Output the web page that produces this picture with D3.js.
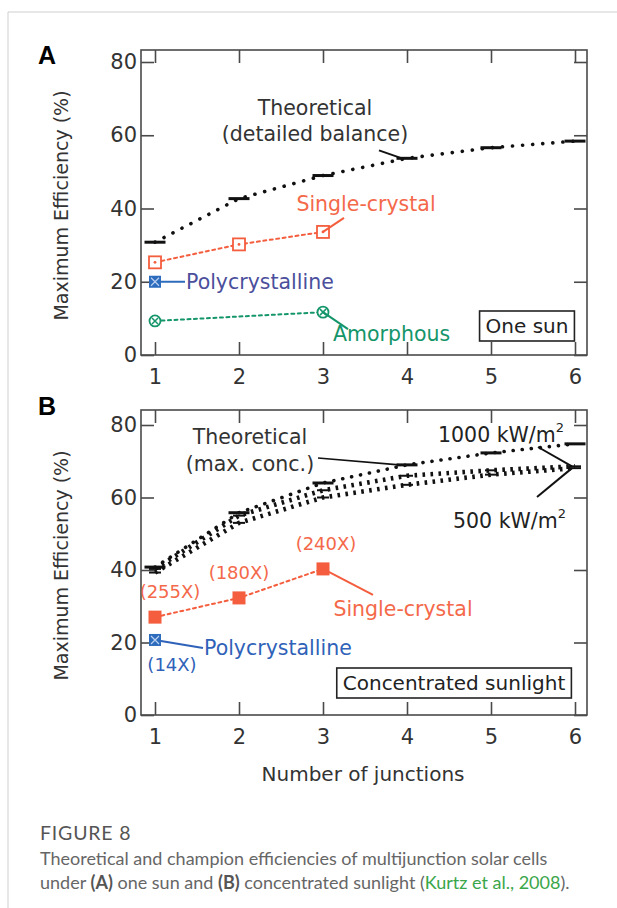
<!DOCTYPE html>
<html><head><meta charset="utf-8">
<script src="https://cdn.jsdelivr.net/npm/d3@7"></script>
<style>
html,body{margin:0;padding:0;background:#fff;}
svg{display:block;}
</style></head>
<body>
<script>
// ---------- DATA ----------
const junctions = [1, 2, 3, 4, 5, 6];
const yTicks = [0, 20, 40, 60, 80];

// Panel A (one sun)
const theoryA = [30.8, 42.7, 49.0, 53.7, 56.6, 58.4];
const singleAX = [1, 2, 3];
const singleA = [25.3, 30.2, 33.6];
const polyAX = [1];
const polyA = [20.0];
const amorphAX = [1, 3];
const amorphA = [9.3, 11.7];

// Panel B (concentrated sunlight)
const theoryMaxB = [40.8, 55.8, 64.0, 69.0, 72.3, 74.8];
const theory1000B = [40.3, 55.0, 62.0, 66.0, 67.5, 68.6];
const theory500B = [39.3, 53.0, 60.0, 63.5, 66.3, 68.1];
const singleBX = [1, 2, 3];
const singleB = [27.0, 32.3, 40.3];
const singleBConc = ["(255X)", "(180X)", "(240X)"];
const polyBX = [1];
const polyB = [20.7];
const polyBConc = ["(14X)"];

// ---------- STYLE ----------
const W = 617, H = 908;
const ORANGE = "#f45d3d", ORANGE_T = "#f4694a";
const BLUE_A = "#4b4f9c", BLUE_MK = "#2d6bbd", BLUE_B = "#2f62b8";
const GREEN = "#14956a";
const AX = "#4a4a4a";
const FONT = "DejaVu Sans, Verdana, sans-serif";
const LS = 20.5;

const svg = d3.select("body").append("svg").attr("width", W).attr("height", H);

// card frame
svg.append("line").attr("x1", 8).attr("x2", W).attr("y1", 12).attr("y2", 12).attr("stroke", "#cfcfcf").attr("stroke-width", 1);
svg.append("line").attr("x1", 8).attr("x2", 8).attr("y1", 12).attr("y2", H).attr("stroke", "#cfcfcf").attr("stroke-width", 1);

const x = d3.scaleLinear().domain([1, 6]).range([155, 575]);
const boxL = 141, boxR = 587;

function panel(yTop80, y0, boxTop, letter, letterY) {
  const y = d3.scaleLinear().domain([0, 80]).range([y0, yTop80]);
  const g = svg.append("g");
  g.append("rect").attr("x", boxL).attr("y", boxTop).attr("width", boxR - boxL).attr("height", y0 - boxTop)
    .attr("fill", "none").attr("stroke", AX).attr("stroke-width", 1.6);
  const tl = 13;
  g.append("g").attr("transform", `translate(0,${y0})`)
    .call(d3.axisBottom(x).tickValues(junctions).tickSize(-tl).tickPadding(11).tickFormat(d3.format("d")))
    .call(a => { a.select(".domain").remove(); a.selectAll("line").attr("stroke", AX).attr("stroke-width", 1.6);
      a.selectAll("text").attr("font-family", FONT).attr("font-size", 21).attr("fill", "#333").attr("dy", "0.85em"); });
  g.append("g").attr("transform", `translate(0,${boxTop})`)
    .call(d3.axisTop(x).tickValues(junctions).tickSize(-tl).tickFormat(""))
    .call(a => { a.select(".domain").remove(); a.selectAll("line").attr("stroke", AX).attr("stroke-width", 1.6); });
  g.append("g").attr("transform", `translate(${boxL},0)`)
    .call(d3.axisLeft(y).tickValues(yTicks).tickSize(-tl).tickPadding(4).tickFormat(d3.format("d")))
    .call(a => { a.select(".domain").remove(); a.selectAll("line").attr("stroke", AX).attr("stroke-width", 1.6);
      a.selectAll("text").attr("font-family", FONT).attr("font-size", 21).attr("fill", "#333"); });
  g.append("g").attr("transform", `translate(${boxR},0)`)
    .call(d3.axisRight(y).tickValues(yTicks).tickSize(-tl).tickFormat(""))
    .call(a => { a.select(".domain").remove(); a.selectAll("line").attr("stroke", AX).attr("stroke-width", 1.6); });
  g.append("text").attr("transform", `translate(68,${(y0 + boxTop) / 2 + 3}) rotate(-90)`)
    .attr("text-anchor", "middle").attr("font-family", FONT).attr("font-size", 19).attr("fill", "#333")
    .text("Maximum Efficiency (%)");
  g.append("text").attr("x", 38).attr("y", letterY).attr("font-family", "Liberation Sans, Arial, sans-serif")
    .attr("font-weight", "bold").attr("font-size", 25).attr("fill", "#000").text(letter);
  return { g, y };
}

function dotted(g, xs, ys, y, color, width, dash, cap) {
  const line = d3.line().x((d, i) => x(xs[i])).y(d => y(d));
  g.append("path").datum(ys).attr("d", line).attr("fill", "none").attr("stroke", color)
    .attr("stroke-width", width).attr("stroke-dasharray", dash).attr("stroke-linecap", cap || "round");
}
function bars(g, xs, ys, y, w, sw) {
  g.selectAll(null).data(ys).enter().append("line")
    .attr("x1", (d, i) => x(xs[i]) - w / 2).attr("x2", (d, i) => x(xs[i]) + w / 2)
    .attr("y1", d => y(d)).attr("y2", d => y(d)).attr("stroke", "#111").attr("stroke-width", sw);
}
function leader(g, x1, y1, x2, y2, color, sw) {
  g.append("line").attr("x1", x1).attr("y1", y1).attr("x2", x2).attr("y2", y2).attr("stroke", color).attr("stroke-width", sw || 1.8);
}
function label(g, tx, ty, txt, color, anchor, size) {
  return g.append("text").attr("x", tx).attr("y", ty).attr("text-anchor", anchor || "start")
    .attr("font-family", FONT).attr("font-size", size || LS).attr("fill", color).text(txt);
}
function boxedLabel(g, cx, cy, txt, size) {
  const t = label(g, cx, cy, txt, "#222", "middle", size).attr("dominant-baseline", "central");
  const bb = t.node().getBBox();
  g.append("rect").attr("x", bb.x - 6).attr("y", bb.y - 3).attr("width", bb.width + 12).attr("height", bb.height + 6)
    .attr("fill", "#fff").attr("stroke", "#222").attr("stroke-width", 1.6);
  t.raise();
}

// ---------- PANEL A ----------
{
  const { g, y } = panel(62, 355, 50, "A", 64);
  dotted(g, junctions, theoryA, y, "#111", 3.6, "0.1,10");
  bars(g, junctions, theoryA, y, 21, 3);
  dotted(g, singleAX, singleA, y, ORANGE, 2, "3,3.5");
  g.selectAll(null).data(singleA).enter().append("rect")
    .attr("x", (d, i) => x(singleAX[i]) - 6).attr("y", d => y(d) - 6).attr("width", 12).attr("height", 12)
    .attr("fill", "#fff").attr("stroke", ORANGE).attr("stroke-width", 1.8);
  g.selectAll(null).data(singleA).enter().append("circle")
    .attr("cx", (d, i) => x(singleAX[i])).attr("cy", d => y(d)).attr("r", 1.4).attr("fill", ORANGE);
  dotted(g, amorphAX, amorphA, y, GREEN, 2, "3,3.5");
  amorphA.forEach((d, i) => {
    const cx = x(amorphAX[i]), cy = y(d);
    g.append("circle").attr("cx", cx).attr("cy", cy).attr("r", 5.5).attr("fill", "#fff").attr("stroke", GREEN).attr("stroke-width", 1.8);
    g.append("path").attr("d", `M${cx - 3},${cy - 3}L${cx + 3},${cy + 3}M${cx - 3},${cy + 3}L${cx + 3},${cy - 3}`).attr("stroke", GREEN).attr("stroke-width", 1.5);
  });
  polyA.forEach((d, i) => {
    const cx = x(polyAX[i]), cy = y(d);
    leader(g, cx, cy, cx + 30, cy, BLUE_MK, 2);
    g.append("rect").attr("x", cx - 6).attr("y", cy - 6).attr("width", 12).attr("height", 12).attr("fill", BLUE_MK);
    g.append("path").attr("d", `M${cx - 4},${cy - 4}L${cx + 4},${cy + 4}M${cx - 4},${cy + 4}L${cx + 4},${cy - 4}`).attr("stroke", "#bcd0f0").attr("stroke-width", 1.2);
    label(g, cx + 31, cy + 7, "Polycrystalline", BLUE_A);
  });
  label(g, 315, 115, "Theoretical", "#333", "middle");
  label(g, 315, 141, "(detailed balance)", "#333", "middle");
  leader(g, x(4) - 28, y(theoryA[3]) - 8, x(4) - 5, y(theoryA[3]), "#111", 2);
  label(g, 366, 211, "Single-crystal", ORANGE_T, "middle");
  leader(g, x(3), y(singleA[2]), x(3) + 21, y(singleA[2]) - 14, ORANGE, 2);
  label(g, 333, 341, "Amorphous", GREEN, "start");
  leader(g, x(3), y(amorphA[1]), x(3) + 25, y(amorphA[1]) + 17, GREEN, 2);
  boxedLabel(g, 527, 326, "One sun", 20);
}

// ---------- PANEL B ----------
{
  const { g, y } = panel(425, 715, 410, "B", 415);
  dotted(g, junctions, theory500B, y, "#111", 4.6, "2.6,5.4", "butt");
  dotted(g, junctions, theory1000B, y, "#111", 4.6, "2.6,5.4", "butt");
  dotted(g, junctions, theoryMaxB, y, "#111", 3.6, "0.1,9");
  bars(g, junctions, theoryMaxB, y, 21, 3);
  bars(g, junctions, theory1000B, y, 12, 2);
  bars(g, junctions, theory500B, y, 12, 2);
  dotted(g, singleBX, singleB, y, ORANGE, 2, "3,3.5");
  g.selectAll(null).data(singleB).enter().append("rect")
    .attr("x", (d, i) => x(singleBX[i]) - 6.5).attr("y", d => y(d) - 6.5).attr("width", 13).attr("height", 13)
    .attr("fill", ORANGE);
  const concDx = [15, 0, 3];
  singleB.forEach((d, i) => label(g, x(singleBX[i]) + concDx[i], y(d) - 19, singleBConc[i], ORANGE_T, "middle", 18));
  polyB.forEach((d, i) => {
    const cx = x(polyBX[i]), cy = y(d);
    leader(g, cx, cy, cx + 48, cy + 8, BLUE_B, 2);
    g.append("rect").attr("x", cx - 6).attr("y", cy - 6).attr("width", 12).attr("height", 12).attr("fill", BLUE_MK);
    g.append("path").attr("d", `M${cx - 4},${cy - 4}L${cx + 4},${cy + 4}M${cx - 4},${cy + 4}L${cx + 4},${cy - 4}`).attr("stroke", "#bcd0f0").attr("stroke-width", 1.2);
    label(g, cx + 49, cy + 15, "Polycrystalline", BLUE_B);
    label(g, cx + 17, cy + 31, polyBConc[i], BLUE_B, "middle", 18);
  });
  label(g, 250, 444, "Theoretical", "#333", "middle");
  label(g, 250, 471, "(max. conc.)", "#333", "middle");
  leader(g, 318, 458, x(4) - 8, y(theoryMaxB[3]), "#111", 1.6);
  const t1 = label(g, 438, 442, "1000 kW/m", "#222", "start");
  t1.append("tspan").attr("dy", -10).attr("font-size", 13).text("2");
  const t2 = label(g, 453, 528, "500 kW/m", "#222", "start");
  t2.append("tspan").attr("dy", -10).attr("font-size", 13).text("2");
  leader(g, 538, 447, x(6) - 3, y(theory1000B[5]), "#111", 2);
  leader(g, 537, 497, x(6) - 3, y(theory500B[5]), "#111", 2);
  label(g, 403, 616, "Single-crystal", ORANGE_T, "middle");
  leader(g, x(3), y(singleB[2]), x(3) + 50, y(singleB[2]) + 26, ORANGE, 2);
  boxedLabel(g, 454, 683, "Concentrated sunlight", 20);
  label(g, 363, 781, "Number of junctions", "#333", "middle", 20);
}

// ---------- CAPTION ----------
const CF = "Lato, Open Sans, sans-serif";
svg.append("text").attr("x", 40).attr("y", 840).attr("font-family", CF).attr("font-size", 19.5).attr("letter-spacing", 0.8).attr("fill", "#555").text("FIGURE 8");
svg.append("text").attr("x", 40).attr("y", 865).attr("font-family", CF).attr("font-size", 18).attr("fill", "#666")
  .text("Theoretical and champion efficiencies of multijunction solar cells");
const c2 = svg.append("text").attr("x", 40).attr("y", 889).attr("font-family", CF).attr("font-size", 18).attr("fill", "#666");
c2.append("tspan").text("under ");
c2.append("tspan").attr("font-weight", "bold").attr("fill", "#555").text("(A)");
c2.append("tspan").text(" one sun and ");
c2.append("tspan").attr("font-weight", "bold").attr("fill", "#555").text("(B)");
c2.append("tspan").text(" concentrated sunlight (");
c2.append("tspan").attr("fill", "#3aa64a").text("Kurtz et al., 2008");
c2.append("tspan").text(").");
</script>
</body></html>
